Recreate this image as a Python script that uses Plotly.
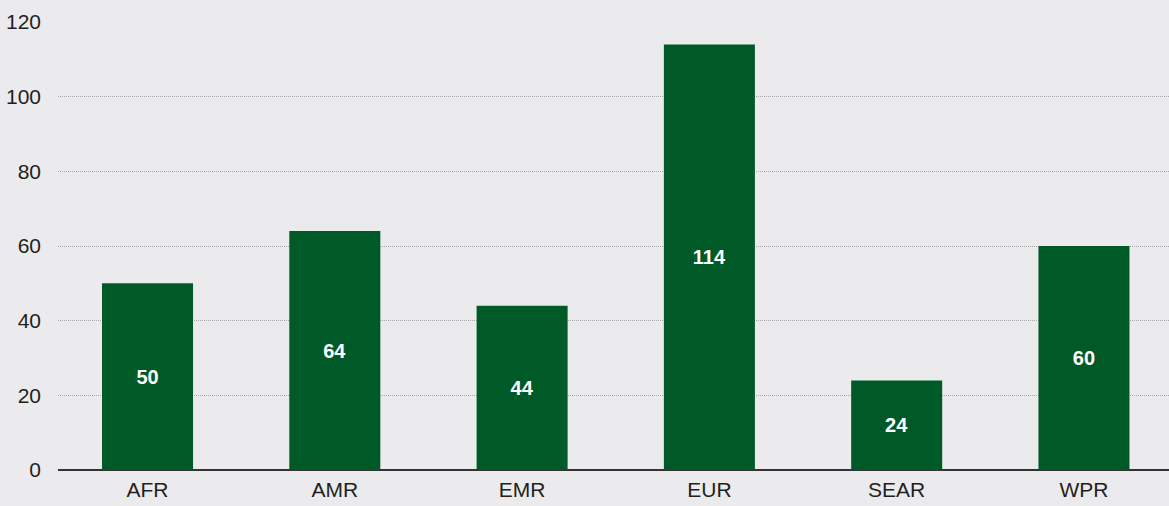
import plotly.graph_objects as go

regions = ["AFR", "AMR", "EMR", "EUR", "SEAR", "WPR"]
values = [50, 64, 44, 114, 24, 60]
y_ticks = [0, 20, 40, 60, 80, 100, 120]

bg = "#ebebed"
bar_color = "#005a28"
axis_font = dict(family="Liberation Sans, Arial", size=21, color="#231f20")

fig = go.Figure(
    go.Bar(
        x=list(range(len(regions))),
        y=values,
        width=0.486,
        marker=dict(color=bar_color, line=dict(width=0)),
        text=[str(v) for v in values],
        textposition="inside",
        insidetextanchor="middle",
        textangle=0,
        textfont=dict(family="Liberation Sans, Arial", size=20, color="white", weight="bold"),
        hoverinfo="skip",
    )
)

fig.update_layout(
    width=1169,
    height=506,
    margin=dict(l=58, r=0, t=22, b=36),
    paper_bgcolor=bg,
    plot_bgcolor=bg,
    showlegend=False,
    uniformtext=dict(minsize=20, mode="show"),
)

fig.update_xaxes(
    range=[-0.478, 5.454],
    tickmode="array",
    tickvals=list(range(len(regions))),
    ticktext=regions,
    tickfont=axis_font,
    showgrid=False,
    zeroline=False,
    showline=False,
    ticks="",
    ticklabelstandoff=5,
)

fig.update_yaxes(
    range=[0, 120],
    tickmode="array",
    tickvals=y_ticks,
    tickfont=axis_font,
    showgrid=True,
    gridcolor="#a8a8a8",
    gridwidth=1,
    griddash="1px,1px",
    zeroline=True,
    zerolinecolor="#333333",
    zerolinewidth=2,
    showline=False,
    ticks="",
    ticklabelstandoff=16,
)

fig.write_html("out.html")
